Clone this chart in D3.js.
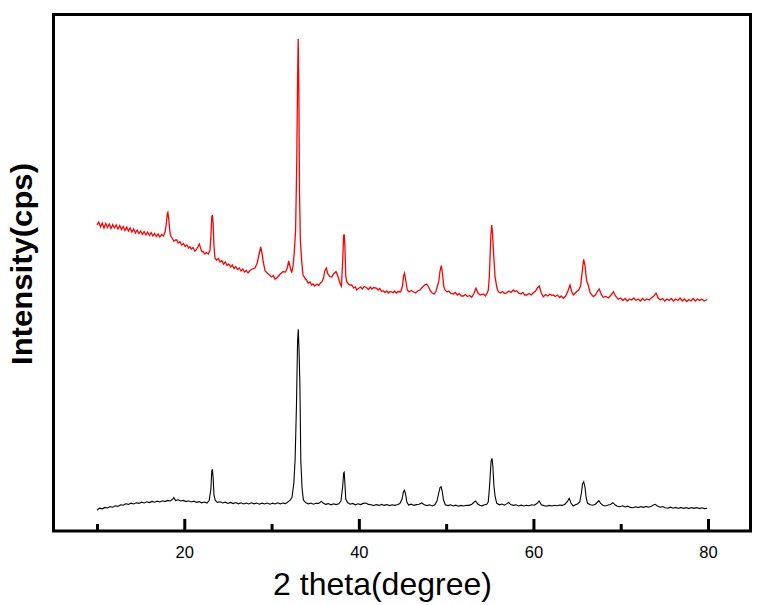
<!DOCTYPE html>
<html>
<head>
<meta charset="utf-8">
<script src="https://cdn.jsdelivr.net/npm/d3@7"></script>
<style>
  html, body { margin: 0; padding: 0; background: #fff; }
  svg { display: block; font-family: "Liberation Sans", Arial, sans-serif; }
</style>
</head>
<body>
<div id="chart"></div>
<script>
// 2 theta (degree) vs intensity (arbitrary cps)
const majorTicks = [20, 40, 60, 80];
const minorTicks = [10, 30, 50, 70];

// upper (red) pattern
const redPattern = [
  [10.0,3060],[10.2,3090],[10.4,3040],[10.6,3080],[10.8,3030],[11.0,3075],[11.2,3035],[11.4,3070],[11.6,3025],[11.8,3065],
  [12.0,3030],[12.2,3060],[12.4,3020],[12.6,3055],[12.8,3015],[13.0,3045],[13.2,3005],[13.4,3040],[13.6,3000],[13.8,3030],
  [14.0,2990],[14.2,3020],[14.4,2980],[14.6,3010],[14.8,2975],[15.0,3000],[15.2,2965],[15.4,2995],[15.6,2960],[15.8,2990],
  [16.0,2955],[16.2,2985],[16.4,2950],[16.6,2975],[16.8,2945],[17.0,2970],[17.2,2940],[17.4,2965],[17.6,2950],[17.8,2990],
  [17.95,3080],[18.05,3170],[18.12,3185],[18.22,3120],[18.35,2990],[18.45,2950],[18.6,2930],[18.8,2900],[19.0,2910],[19.13,2910],
  [19.3,2880],[19.5,2895],[19.7,2860],[19.9,2875],[20.1,2845],[20.3,2860],[20.5,2830],[20.65,2843],[20.8,2820],[21.0,2835],
  [21.2,2800],[21.34,2810],[21.55,2840],[21.72,2870],[21.9,2820],[22.05,2790],[22.18,2793],[22.35,2770],[22.5,2785],[22.75,2770],
  [22.95,2810],[23.08,3000],[23.15,3140],[23.22,3160],[23.3,3080],[23.4,2850],[23.52,2727],[23.7,2710],[23.9,2725],[24.1,2690],
  [24.3,2705],[24.5,2670],[24.7,2690],[24.9,2655],[25.1,2670],[25.3,2640],[25.5,2660],[25.7,2625],[25.9,2645],[26.1,2615],
  [26.3,2630],[26.5,2600],[26.7,2620],[26.9,2590],[27.1,2605],[27.3,2580],[27.53,2605],[27.8,2620],[28.1,2630],[28.35,2680],
  [28.55,2760],[28.75,2840],[28.9,2780],[29.05,2690],[29.25,2603],[29.5,2580],[29.75,2560],[30.0,2540],[30.2,2555],[30.39,2520],
  [30.6,2530],[30.8,2550],[31.0,2570],[31.31,2593],[31.6,2590],[31.8,2630],[31.96,2700],[32.1,2650],[32.3,2583],[32.45,2640],
  [32.6,2790],[32.75,3000],[32.88,3650],[32.98,4500],[33.05,4920],[33.12,4450],[33.2,3400],[33.3,2900],[33.45,2700],[33.6,2560],
  [33.83,2527],[34.0,2510],[34.2,2480],[34.4,2490],[34.6,2460],[34.75,2470],[34.95,2450],[35.2,2470],[35.4,2455],[35.6,2480],
  [35.78,2493],[35.95,2530],[36.1,2600],[36.27,2630],[36.45,2570],[36.69,2543],[36.9,2540],[37.1,2570],[37.38,2593],[37.55,2560],
  [37.84,2477],[38.0,2450],[38.15,2700],[38.25,2950],[38.32,2967],[38.4,2850],[38.5,2550],[38.61,2493],[38.8,2470],[39.0,2460],
  [39.18,2460],[39.4,2430],[39.6,2440],[39.75,2410],[39.95,2425],[40.2,2440],[40.4,2420],[40.6,2445],[40.9,2433],[41.1,2415],
  [41.3,2440],[41.5,2420],[41.7,2435],[42.04,2427],[42.2,2410],[42.4,2425],[42.6,2395],[42.8,2403],[43.0,2385],[43.2,2400],
  [43.4,2380],[43.6,2395],[43.94,2383],[44.1,2400],[44.3,2380],[44.5,2395],[44.79,2393],[45.0,2450],[45.12,2550],[45.23,2577],
  [45.35,2520],[45.55,2410],[45.75,2390],[46.0,2405],[46.24,2393],[46.5,2380],[46.75,2400],[47.0,2410],[47.3,2440],[47.55,2460],
  [47.77,2470],[48.0,2440],[48.2,2400],[48.4,2380],[48.64,2370],[48.85,2400],[49.0,2450],[49.15,2493],[49.3,2600],[49.44,2653],
  [49.58,2580],[49.72,2450],[49.87,2410],[50.1,2390],[50.3,2400],[50.55,2375],[50.82,2370],[51.05,2385],[51.3,2360],[51.5,2375],
  [51.75,2350],[51.96,2350],[52.2,2365],[52.45,2345],[52.7,2355],[52.93,2337],[53.15,2370],[53.42,2427],[53.65,2380],[53.9,2360],
  [54.25,2370],[54.5,2350],[54.7,2380],[54.83,2410],[54.95,2550],[55.02,2710],[55.12,2950],[55.22,3060],[55.3,3000],[55.42,2800],
  [55.6,2543],[55.8,2440],[55.97,2393],[56.2,2380],[56.45,2395],[56.7,2375],[56.94,2383],[57.2,2400],[57.45,2385],[57.7,2410],
  [57.9,2395],[58.08,2403],[58.3,2380],[58.55,2370],[58.8,2385],[59.0,2360],[59.23,2360],[59.5,2375],[59.75,2360],[59.98,2383],
  [60.25,2400],[60.45,2430],[60.67,2450],[60.9,2380],[61.13,2343],[61.4,2365],[61.65,2350],[61.9,2370],[62.1,2355],[62.27,2360],
  [62.5,2345],[62.75,2360],[63.0,2335],[63.2,2350],[63.42,2327],[63.7,2350],[63.95,2400],[64.19,2460],[64.4,2390],[64.57,2360],
  [64.8,2380],[65.0,2400],[65.14,2403],[65.4,2450],[65.6,2600],[65.75,2717],[65.9,2660],[66.1,2500],[66.28,2460],[66.5,2380],
  [66.86,2343],[67.1,2360],[67.35,2400],[67.54,2420],[67.8,2360],[68.0,2337],[68.3,2345],[68.6,2330],[68.9,2360],[69.15,2393],
  [69.4,2350],[69.72,2317],[70.0,2330],[70.25,2305],[70.5,2325],[70.75,2300],[71.0,2320],[71.25,2310],[71.5,2330],[71.75,2305],
  [72.0,2320],[72.25,2300],[72.5,2325],[72.75,2305],[73.0,2320],[73.25,2310],[73.5,2330],[73.8,2350],[74.04,2380],[74.3,2330],
  [74.55,2310],[74.8,2325],[75.05,2300],[75.3,2320],[75.55,2305],[75.8,2325],[76.05,2300],[76.3,2320],[76.55,2305],[76.8,2330],
  [77.05,2300],[77.3,2320],[77.55,2295],[77.8,2315],[78.05,2300],[78.3,2325],[78.55,2300],[78.8,2320],[79.05,2305],[79.3,2320],
  [79.55,2300],[79.92,2315]
];

// lower (black) pattern
const blackPattern = [
  [10.0,210],[10.3,228],[10.6,222],[10.9,236],[11.2,230],[11.5,244],[11.8,238],[12.1,252],[12.4,246],[12.7,262],
  [13.0,258],[13.3,272],[13.6,266],[13.9,278],[14.2,270],[14.5,282],[14.8,276],[15.1,288],[15.4,280],[15.7,292],
  [16.0,284],[16.3,296],[16.6,288],[16.9,298],[17.2,290],[17.5,302],[17.8,294],[18.1,306],[18.4,300],[18.7,322],
  [18.8,335],[19.0,305],[19.3,312],[19.6,300],[19.9,306],[20.2,294],[20.5,302],[20.8,290],[21.1,298],[21.4,286],
  [21.7,294],[22.0,282],[22.3,290],[22.6,280],[22.85,305],[23.05,420],[23.15,600],[23.22,617],[23.3,540],[23.4,360],
  [23.55,305],[23.8,286],[24.1,292],[24.4,280],[24.7,288],[25.0,276],[25.3,286],[25.6,274],[25.9,284],[26.2,272],
  [26.5,282],[26.8,270],[27.1,280],[27.4,270],[27.7,282],[28.0,272],[28.3,280],[28.6,268],[28.9,278],[29.2,270],
  [29.5,280],[29.8,268],[30.1,278],[30.4,270],[30.7,282],[31.0,272],[31.3,280],[31.6,274],[31.9,292],[32.15,310],
  [32.35,340],[32.55,480],[32.7,720],[32.85,1250],[32.98,1900],[33.06,2017],[33.15,1800],[33.25,1450],[33.35,700],[33.5,420],
  [33.65,310],[33.9,285],[34.2,272],[34.5,280],[34.8,268],[35.1,278],[35.4,276],[35.7,296],[35.9,280],[36.2,266],
  [36.5,274],[36.8,262],[37.1,272],[37.4,264],[37.7,272],[37.95,300],[38.15,450],[38.26,580],[38.32,587],[38.4,480],
  [38.5,320],[38.7,285],[39.0,268],[39.3,276],[39.6,262],[39.9,272],[40.2,264],[40.5,276],[40.8,280],[41.1,266],
  [41.4,262],[41.7,254],[42.0,264],[42.3,256],[42.6,266],[42.9,256],[43.2,264],[43.5,254],[43.8,262],[44.1,256],
  [44.4,262],[44.7,275],[44.95,320],[45.1,390],[45.22,407],[45.35,370],[45.5,290],[45.7,260],[46.0,268],[46.3,256],
  [46.6,264],[46.9,268],[47.2,280],[47.5,262],[47.8,254],[48.1,262],[48.4,250],[48.7,262],[48.95,300],[49.15,380],
  [49.3,435],[49.42,443],[49.55,400],[49.7,310],[49.9,262],[50.2,254],[50.5,262],[50.8,250],[51.1,258],[51.4,248],
  [51.7,256],[52.0,250],[52.3,258],[52.6,256],[52.9,264],[53.15,285],[53.38,300],[53.6,272],[53.85,258],[54.1,252],
  [54.4,262],[54.65,268],[54.83,293],[54.95,420],[55.05,560],[55.15,700],[55.25,727],[55.35,650],[55.48,443],[55.62,340],
  [55.8,277],[56.1,262],[56.4,270],[56.7,258],[57.0,276],[57.15,287],[57.4,264],[57.7,256],[58.0,262],[58.3,250],
  [58.6,258],[58.9,250],[59.2,258],[59.5,252],[59.8,262],[60.1,258],[60.4,275],[60.65,300],[60.9,262],[61.2,254],
  [61.5,248],[61.8,256],[62.1,250],[62.4,258],[62.7,252],[63.0,260],[63.3,256],[63.6,268],[63.9,295],[64.1,327],
  [64.3,280],[64.55,250],[64.8,262],[65.05,270],[65.3,290],[65.5,380],[65.62,470],[65.76,493],[65.9,440],[66.05,330],
  [66.2,277],[66.5,262],[66.8,258],[67.1,268],[67.35,290],[67.5,303],[67.7,275],[67.95,258],[68.2,250],[68.5,258],
  [68.8,264],[69.1,283],[69.35,262],[69.6,248],[69.9,243],[70.2,252],[70.5,240],[70.8,248],[71.1,236],[71.4,233],
  [71.7,242],[72.0,234],[72.3,244],[72.6,236],[72.9,246],[73.2,238],[73.5,248],[73.8,262],[73.95,267],[74.2,250],
  [74.5,238],[74.8,244],[75.1,232],[75.4,228],[75.7,238],[76.0,228],[76.3,236],[76.6,226],[76.9,236],[77.2,226],
  [77.5,234],[77.8,224],[78.1,234],[78.4,226],[78.7,234],[79.0,224],[79.3,232],[79.6,224],[79.9,228]
];

const width = 771, height = 605;
const plot = {left: 53.5, right: 750.5, top: 14.5, bottom: 531};

const svg = d3.select("#chart").append("svg")
  .attr("width", width)
  .attr("height", height);

// x: 10 at px 97, 80 at px 708
const x = d3.scaleLinear().domain([10, 80]).range([97, 708]);
const y = d3.scaleLinear().domain([0, 5165]).range([plot.bottom, plot.top]);

const line = d3.line()
  .x(d => x(d[0]))
  .y(d => y(d[1]));

svg.append("path")
  .datum(blackPattern)
  .attr("fill", "none")
  .attr("stroke", "#000")
  .attr("stroke-width", 1.1)
  .attr("d", line);

svg.append("path")
  .datum(redPattern)
  .attr("fill", "none")
  .attr("stroke", "#ff0000")
  .attr("stroke-width", 1.3)
  .attr("d", line);

// ticks point inward
const minorAxis = svg.append("g")
  .attr("transform", `translate(0,${plot.bottom})`)
  .call(d3.axisBottom(x).tickValues(minorTicks).tickSize(-7).tickFormat(""));
minorAxis.select(".domain").remove();
minorAxis.selectAll("line").attr("stroke-width", 3);

const majorAxis = svg.append("g")
  .attr("transform", `translate(0,${plot.bottom})`)
  .call(d3.axisBottom(x).tickValues(majorTicks).tickSize(-12).tickPadding(15).tickFormat(d3.format("d")));
majorAxis.select(".domain").remove();
majorAxis.selectAll("line").attr("stroke-width", 3);
majorAxis.selectAll("text")
  .attr("font-size", 16.5)
  .attr("font-family", "'Liberation Sans', Arial, sans-serif")
  .attr("fill", "#000");

// frame
svg.append("rect")
  .attr("x", plot.left)
  .attr("y", plot.top)
  .attr("width", plot.right - plot.left)
  .attr("height", plot.bottom - plot.top)
  .attr("fill", "none")
  .attr("stroke", "#000")
  .attr("stroke-width", 3);

// axis titles
svg.append("text")
  .attr("x", 382.5)
  .attr("y", 595)
  .attr("text-anchor", "middle")
  .attr("font-size", 32)
  .attr("fill", "#000")
  .text("2 theta(degree)");

svg.append("text")
  .attr("transform", "translate(32,264) rotate(-90)")
  .attr("text-anchor", "middle")
  .attr("font-size", 29)
  .attr("font-weight", "bold")
  .attr("textLength", 202)
  .attr("lengthAdjust", "spacingAndGlyphs")
  .attr("fill", "#000")
  .text("Intensity(cps)");
</script>
</body>
</html>
